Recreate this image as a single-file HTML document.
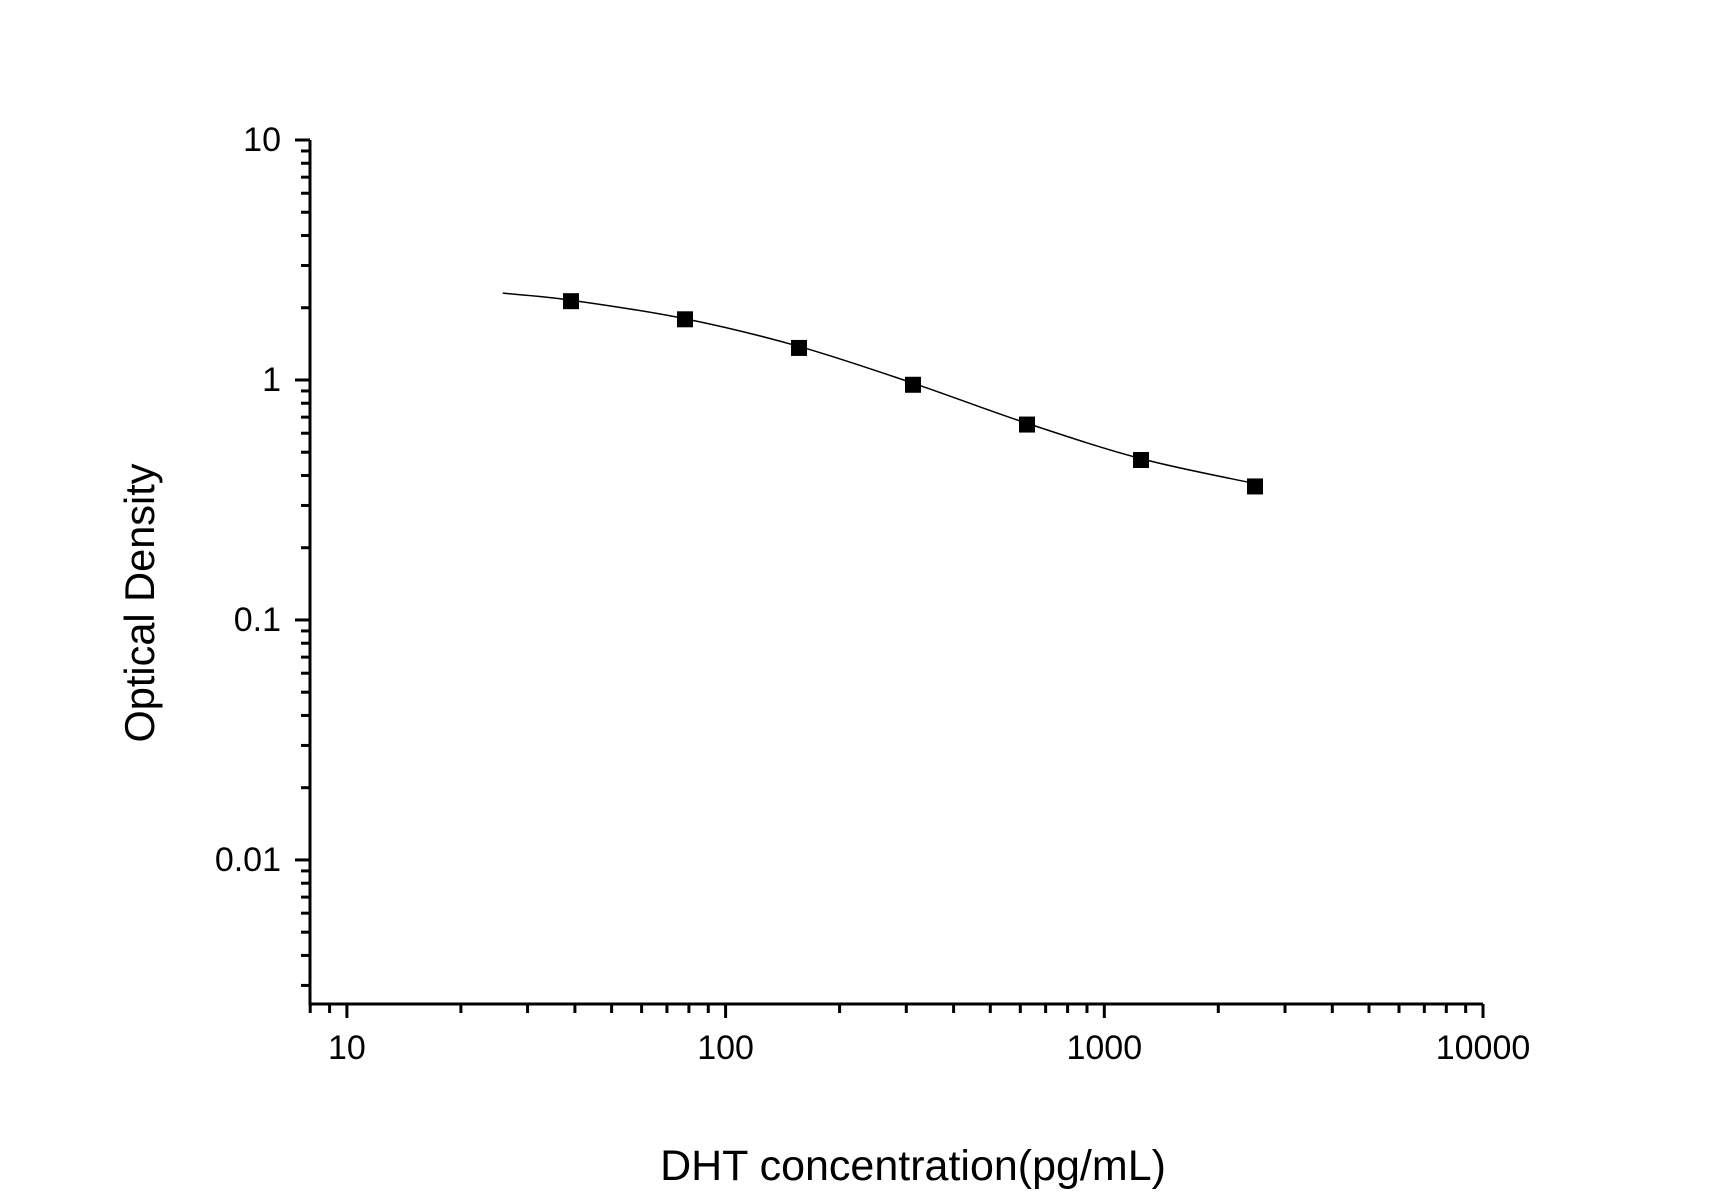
<!DOCTYPE html>
<html><head><meta charset="utf-8"><style>
html,body{margin:0;padding:0;background:#fff;}
svg{display:block;font-family:"Liberation Sans",Arial,sans-serif;}
</style></head><body>
<svg id="chart" width="1725" height="1204" viewBox="0 0 1725 1204" xmlns="http://www.w3.org/2000/svg">
<rect width="1725" height="1204" fill="#fff"/>
<g id="axes"></g>
<g id="curve"></g>
<g id="points"></g>
<text x="913" y="1180" font-size="43" text-anchor="middle" fill="#000">DHT concentration(pg/mL)</text>
<text x="0" y="0" font-size="41.5" text-anchor="middle" fill="#000" transform="translate(154,603) rotate(-90)">Optical Density</text>
</svg>
<script>
const concentrations = [39.06, 78.125, 156.25, 312.5, 625, 1250, 2500];
const odValues = [2.13, 1.79, 1.36, 0.955, 0.652, 0.464, 0.36];
const curveX = [25.8, 39.06, 78.125, 156.25, 312.5, 625, 1250, 2500];
const curveY = [2.30, 2.15, 1.80, 1.38, 0.97, 0.66, 0.47, 0.37];
const xTickLabels = ["10", "100", "1000", "10000"];
const xTickValues = [10, 100, 1000, 10000];
const yTickLabels = ["10", "1", "0.1", "0.01"];
const yTickValues = [10, 1, 0.1, 0.01];

const NS = "http://www.w3.org/2000/svg";
const X0 = 310, X1 = 1483, Y0 = 1004, Y1 = 140;
const xMin = Math.log10(7.99), xMax = 4, yMin = Math.log10(0.00251), yMax = 1;
function xs(v){ return X0 + (Math.log10(v) - xMin) / (xMax - xMin) * (X1 - X0); }
function ys(v){ return Y0 - (Math.log10(v) - yMin) / (yMax - yMin) * (Y0 - Y1); }
function mk(tag, attrs, parent){ const e = document.createElementNS(NS, tag); for (const k in attrs) e.setAttribute(k, attrs[k]); parent.appendChild(e); return e; }

const axes = document.getElementById('axes');
let el = mk('line', {x1:X0, y1:Y1, x2:X0, y2:Y0+1.5, stroke:'#000','stroke-width':3}, axes);


el = mk('line', {x1:X0-1.5, y1:Y0, x2:X1, y2:Y0, stroke:'#000','stroke-width':3}, axes);



for (let d = 0; d <= 4; d++) {
  for (let m = 1; m <= 9; m++) {
    const v = m * Math.pow(10, d);
    if (v < 8 || v > 10000) continue;
    const x = xs(v);
    const len = m === 1 ? 14 : 9;
    el = mk('line', {x1:x, y1:Y0, x2:x, y2:Y0+len, stroke:'#000','stroke-width':3}, axes);
    
    
  }
}
xTickValues.forEach((v, i) => {
  const t = mk('text', {x:xs(v), y:1059, 'font-size':34, 'text-anchor':'middle', fill:'#000'}, axes);
  t.textContent = xTickLabels[i];
  
  
});
for (let d = -3; d <= 1; d++) {
  for (let m = 1; m <= 9; m++) {
    const v = m * Math.pow(10, d);
    if (v < 0.0025 || v > 10.01) continue;
    const y = ys(v);
    const len = m === 1 ? 15 : 9;
    el = mk('line', {x1:X0-len, y1:y, x2:X0, y2:y, stroke:'#000','stroke-width':3}, axes);
    
    
  }
}
yTickValues.forEach((v, i) => {
  const t = mk('text', {x:281, y:ys(v)+11, 'font-size':34, 'text-anchor':'end', fill:'#000'}, axes);
  t.textContent = yTickLabels[i];
  
  
});

const pts = curveX.map((v, i) => [xs(v), ys(curveY[i])]);
let d = 'M' + pts[0][0] + ',' + pts[0][1];
for (let i = 0; i < pts.length - 1; i++) {
  const p0 = pts[Math.max(0, i-1)], p1 = pts[i], p2 = pts[i+1], p3 = pts[Math.min(pts.length-1, i+2)];
  const c1 = [p1[0] + (p2[0]-p0[0])/6, p1[1] + (p2[1]-p0[1])/6];
  const c2 = [p2[0] - (p3[0]-p1[0])/6, p2[1] - (p3[1]-p1[1])/6];
  d += ' C' + c1.join(',') + ' ' + c2.join(',') + ' ' + p2.join(',');
}
el = mk('path', {d:d, fill:'none', stroke:'#000', 'stroke-width':1.5}, document.getElementById('curve'));



const pg = document.getElementById('points');
concentrations.forEach((c, i) => {
  const r = mk('rect', {x:xs(c)-8, y:ys(odValues[i])-8, width:16, height:16, fill:'#000'}, pg);
  
  
});
</script>
</body></html>
